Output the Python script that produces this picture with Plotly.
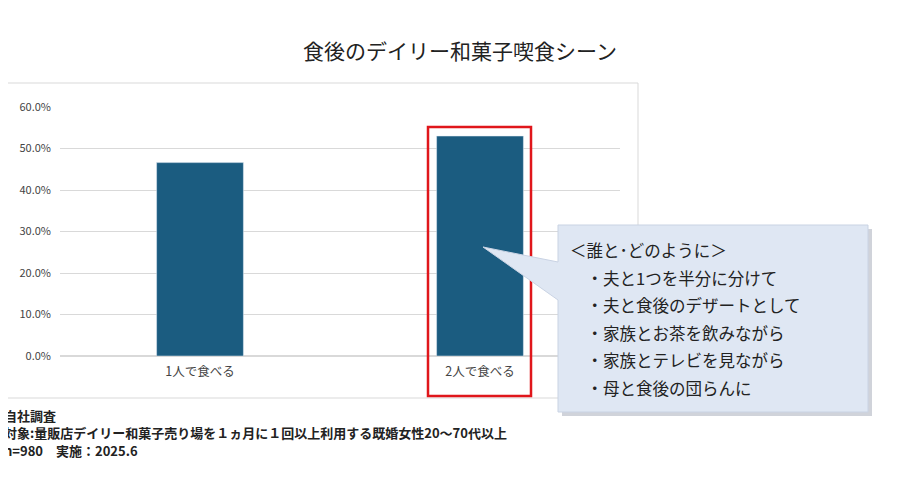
import plotly.graph_objects as go

categories = ["1人で食べる", "2人で食べる"]
values = [0.466, 0.530]
tick_vals = [0, 0.1, 0.2, 0.3, 0.4, 0.5, 0.6]
callout_lines = ["＜誰と･どのように＞", "　・夫と1つを半分に分けて", "　・夫と食後のデザートとして",
                 "　・家族とお茶を飲みながら", "　・家族とテレビを見ながら", "　・母と食後の団らんに"]
notes = ["自社調査", "対象:量販店デイリー和菓子売り場を１ヵ月に１回以上利用する既婚女性20～70代以上",
         "n=980　実施：2025.6"]

FONT = "Noto Sans CJK JP"
OFF = 8  # page offset seen in the render
L, R, T, B = 60 - OFF, 620 - OFF, 107 - OFF, 356 - OFF  # plot area in pixels


def px(x):
    return (x - OFF - L) / (R - L)


def py(y):
    return (B - (y - OFF)) / (B - T)


fig = go.Figure(go.Bar(x=categories, y=values, marker_color="#1b5c80", width=0.31))

shapes = [
    dict(type="rect", xref="paper", yref="paper", x0=px(2), x1=px(638), y0=py(83), y1=py(398),
         line=dict(color="#d9d9d9", width=1), layer="below"),
    dict(type="rect", xref="paper", yref="paper", x0=px(428), x1=px(531), y0=py(127), y1=py(396),
         line=dict(color="#e0161b", width=2.5)),
    dict(type="rect", xref="paper", yref="paper", x0=px(562), x1=px(872), y0=py(229), y1=py(416),
         line=dict(width=0), fillcolor="rgba(120,130,150,0.35)"),
]
pts = [(558, 225), (868, 225), (868, 412), (558, 412), (558, 300), (483, 247), (558, 262)]
path = "M " + " L ".join(f"{px(x)},{py(y)}" for x, y in pts) + " Z"
shapes.append(dict(type="path", xref="paper", yref="paper", path=path,
                   fillcolor="#dfe7f3", line=dict(color="#c9d3e3", width=1)))

annotations = [
    dict(text="食後のデイリー和菓子喫食シーン", xref="paper", yref="paper", x=px(460), y=py(50),
         xanchor="center", yanchor="middle", showarrow=False,
         font=dict(size=21, color="#222", family=FONT)),
]
for i, line in enumerate(callout_lines):
    annotations.append(dict(text=line, xref="paper", yref="paper", x=px(568), y=py(250 + 27.5 * i),
                            xanchor="left", yanchor="middle", showarrow=False,
                            font=dict(size=16.5, color="#222", family=FONT)))
for i, line in enumerate(notes):
    annotations.append(dict(text="<b>" + line + "</b>", xref="paper", yref="paper", x=px(2),
                            y=py(415 + 17.5 * i), xanchor="left", yanchor="middle", showarrow=False,
                            font=dict(size=13, color="#222", family=FONT)))

fig.update_layout(
    width=900, height=480,
    margin=dict(l=L, r=900 - R, t=T, b=480 - B),
    paper_bgcolor="white", plot_bgcolor="white",
    showlegend=False, bargap=0.69,
    shapes=shapes, annotations=annotations,
    font=dict(family=FONT, color="#444"),
    yaxis=dict(range=[0, 0.6], tickvals=tick_vals, tickformat=".1%", gridcolor="#d9d9d9",
               zeroline=True, zerolinecolor="#d9d9d9", tickfont=dict(size=11), ticklabelstandoff=8),
    xaxis=dict(tickfont=dict(size=12.5), showline=False, ticklabelstandoff=6),
)

fig.write_html("out.html")
